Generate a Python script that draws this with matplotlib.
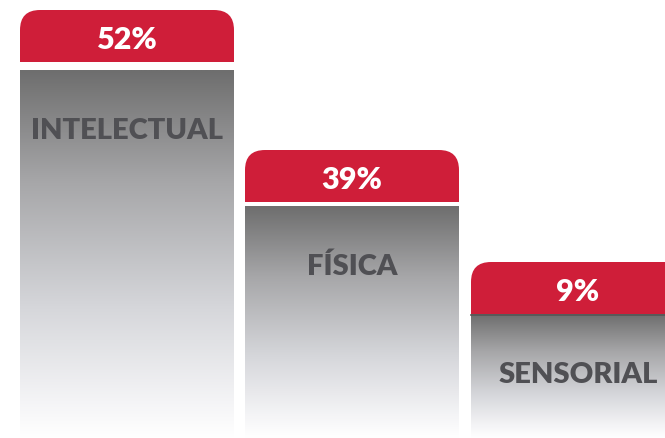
import numpy as np
import matplotlib
matplotlib.use("Agg")
import matplotlib.pyplot as plt
from matplotlib.patches import FancyBboxPatch, Rectangle
from matplotlib.colors import LinearSegmentedColormap

# datos
categorias = ["INTELECTUAL", "FÍSICA", "SENSORIAL"]
porcentajes = [52, 39, 9]
alturas = [428, 288, 176]   # altura de cada barra

# disposicion (pixeles)
x0 = [20, 245, 471]
ancho = 214
alto_tapa = 52
hueco = [8, 4, 0]
rojo = "#cf1e39"
gris_txt = "#505054"

cmap = LinearSegmentedColormap.from_list(
    "grad", [(0.0, "#6e6e6e"), (0.3, "#a6a6a8"), (0.65, "#d6d7db"),
             (0.9, "#f4f4f6"), (1.0, "#ffffff")])

fig = plt.figure(figsize=(6.65, 4.39), dpi=100)
ax = fig.add_axes([0, 0, 1, 1])
ax.axis("off")

grad = np.linspace(0, 1, 256).reshape(-1, 1)

for i, cat in enumerate(categorias):
    top = alturas[i]
    xl = x0[i]
    # tapa roja con esquinas superiores redondeadas
    ax.add_patch(FancyBboxPatch((xl, top - alto_tapa), ancho, alto_tapa,
                                boxstyle="round,pad=0,rounding_size=20",
                                fc=rojo, ec="none", zorder=3))
    ax.add_patch(Rectangle((xl, top - alto_tapa), ancho, alto_tapa / 2,
                           fc=rojo, ec="none", zorder=3))
    # cuerpo gris en degradado
    cuerpo_top = top - alto_tapa - hueco[i]
    ax.imshow(grad, cmap=cmap, aspect="auto", zorder=2,
              extent=(xl, xl + ancho, 0, cuerpo_top), origin="upper")
    if hueco[i] == 0:
        ax.plot([xl, xl + ancho], [cuerpo_top - 1, cuerpo_top - 1],
                color="#555555", lw=1.2, zorder=4)
    ax.text(xl + ancho / 2, top - alto_tapa / 2 - 3, f"{porcentajes[i]}%",
            color="white", fontsize=22, fontweight="heavy", family="Lato",
            ha="center", va="center", zorder=5)
    ax.text(xl + ancho / 2, cuerpo_top - 60, cat,
            color=gris_txt, fontsize=21, fontweight="heavy", family="Lato",
            ha="center", va="center", zorder=5)

ax.set_xlim(0, 665)
ax.set_ylim(0, 439)
fig.savefig("out.png", dpi=100)
